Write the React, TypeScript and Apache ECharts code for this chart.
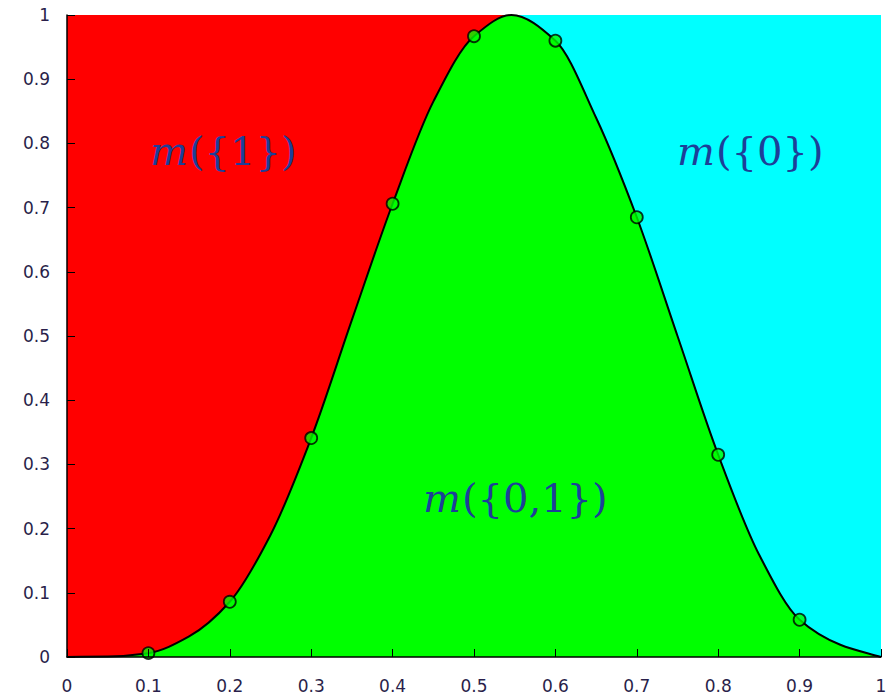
import React, { useEffect, useRef } from "react";
import * as echarts from "echarts";

// curve
const curveX = [0, 0.05, 0.1, 0.15, 0.2, 0.25, 0.3, 0.35, 0.4, 0.45, 0.5, 0.546, 0.6, 0.65, 0.7, 0.75, 0.8, 0.85, 0.9, 0.95, 1];
const curveY = [0, 0.0008, 0.006, 0.032, 0.086, 0.19, 0.341, 0.525, 0.706, 0.865, 0.967, 1.0, 0.96, 0.84, 0.685, 0.5, 0.315, 0.16, 0.058, 0.019, 0];
// marked points
const markX = [0.1, 0.2, 0.3, 0.4, 0.5, 0.6, 0.7, 0.8, 0.9];
const markY = [0.006, 0.086, 0.341, 0.706, 0.967, 0.96, 0.685, 0.315, 0.058];
const peakX = 0.546;
const labels = [
  { inner: "({1})", x: 150, y: 151 },
  { inner: "({0})", x: 677, y: 151 },
  { inner: "({0,1})", x: 423, y: 498 },
];

// monotone cubic (Fritsch-Carlson) path through pixel points
function monotonePath(pts: number[][]): string {
  const n = pts.length;
  const d: number[] = [];
  const h: number[] = [];
  for (let i = 0; i < n - 1; i++) {
    h.push(pts[i + 1][0] - pts[i][0]);
    d.push((pts[i + 1][1] - pts[i][1]) / h[i]);
  }
  const m: number[] = new Array(n).fill(0);
  m[0] = d[0];
  m[n - 1] = d[n - 2];
  for (let i = 1; i < n - 1; i++) {
    if (d[i - 1] * d[i] <= 0) m[i] = 0;
    else {
      const w1 = 2 * h[i] + h[i - 1];
      const w2 = h[i] + 2 * h[i - 1];
      m[i] = (w1 + w2) / (w1 / d[i - 1] + w2 / d[i]);
    }
  }
  let p = `M${pts[0][0]},${pts[0][1]}`;
  for (let i = 0; i < n - 1; i++) {
    const [x0, y0] = pts[i];
    const [x1, y1] = pts[i + 1];
    const t = h[i] / 3;
    p += ` C${x0 + t},${y0 + m[i] * t} ${x1 - t},${y1 - m[i + 1] * t} ${x1},${y1}`;
  }
  return p;
}

export default function App() {
  const ref = useRef<HTMLDivElement>(null);
  useEffect(() => {
    const chart = echarts.init(ref.current!, null, { renderer: "svg" });
    const axisLabel = { fontFamily: "DejaVu Sans", fontSize: 17, color: "#2a1f4a" };
    const textColor = "#1d3f98";
    const ctx = document.createElement("canvas").getContext("2d")!;
    ctx.font = "italic 40px 'DejaVu Serif'";
    const mW = ctx.measureText("m").width;
    chart.setOption({
      animation: false,
      grid: { left: 67, right: 9, top: 15, bottom: 40, containLabel: false },
      xAxis: {
        type: "value", min: 0, max: 1, interval: 0.1,
        axisLine: { show: true, onZero: false, lineStyle: { color: "#000", width: 1.5 } },
        axisTick: { show: true, inside: true, length: 8, lineStyle: { color: "#000" } },
        axisLabel: { ...axisLabel, margin: 20 },
        splitLine: { show: false },
        z: 5,
      },
      yAxis: {
        type: "value", min: 0, max: 1, interval: 0.1,
        axisLine: { show: true, onZero: false, lineStyle: { color: "#000", width: 1.5 } },
        axisTick: { show: true, inside: true, length: 8, lineStyle: { color: "#000" } },
        axisLabel: { ...axisLabel, margin: 17 },
        splitLine: { show: false },
        z: 5,
      },
      series: [
        {
          type: "line", data: [[0, 1], [peakX, 1]], symbol: "none",
          lineStyle: { width: 0 }, areaStyle: { color: "#ff0000", opacity: 1 }, z: 1,
        },
        {
          type: "line", data: [[peakX, 1], [1, 1]], symbol: "none",
          lineStyle: { width: 0 }, areaStyle: { color: "#00ffff", opacity: 1 }, z: 1,
        },
        {
          type: "custom", coordinateSystem: "cartesian2d", z: 2,
          data: curveX.map((x, i) => [x, curveY[i]]),
          encode: { x: 0, y: 1 },
          renderItem: (params: any, api: any) => {
            if (params.dataIndex !== 0) return null;
            const pts = curveX.map((x, i) => api.coord([x, curveY[i]]));
            const curve = monotonePath(pts);
            const end = api.coord([curveX[curveX.length - 1], 0]);
            const start = api.coord([curveX[0], 0]);
            return {
              type: "group",
              children: [
                {
                  type: "path",
                  shape: { pathData: `${curve} L${end[0]},${end[1]} L${start[0]},${start[1]} Z` },
                  style: { fill: "#00ff00", stroke: "none" },
                },
                {
                  type: "path",
                  shape: { pathData: curve },
                  style: { fill: "none", stroke: "#000", lineWidth: 2 },
                },
              ],
            };
          },
        },
        {
          type: "scatter", data: markX.map((x, i) => [x, markY[i]]), symbol: "circle", symbolSize: 12,
          itemStyle: { color: "#00ff00", borderColor: "#000", borderWidth: 1.8 }, z: 3,
        },
      ],
      graphic: labels.flatMap((l) => [
        {
          type: "text", x: l.x, y: l.y, z: 10,
          style: {
            text: "m", align: "left", verticalAlign: "middle",
            fontFamily: "DejaVu Serif", fontStyle: "italic", fontSize: 40, fill: textColor,
          },
        },
        {
          type: "text", x: l.x + mW + 1, y: l.y, z: 10,
          style: {
            text: l.inner, align: "left", verticalAlign: "middle",
            fontFamily: "DejaVu Serif", fontSize: 40, fill: textColor,
          },
        },
      ]),
    });
    return () => chart.dispose();
  }, []);
  return <div ref={ref} style={{ position: "absolute", left: 0, top: 0, width: 890, height: 697 }} />;
}
